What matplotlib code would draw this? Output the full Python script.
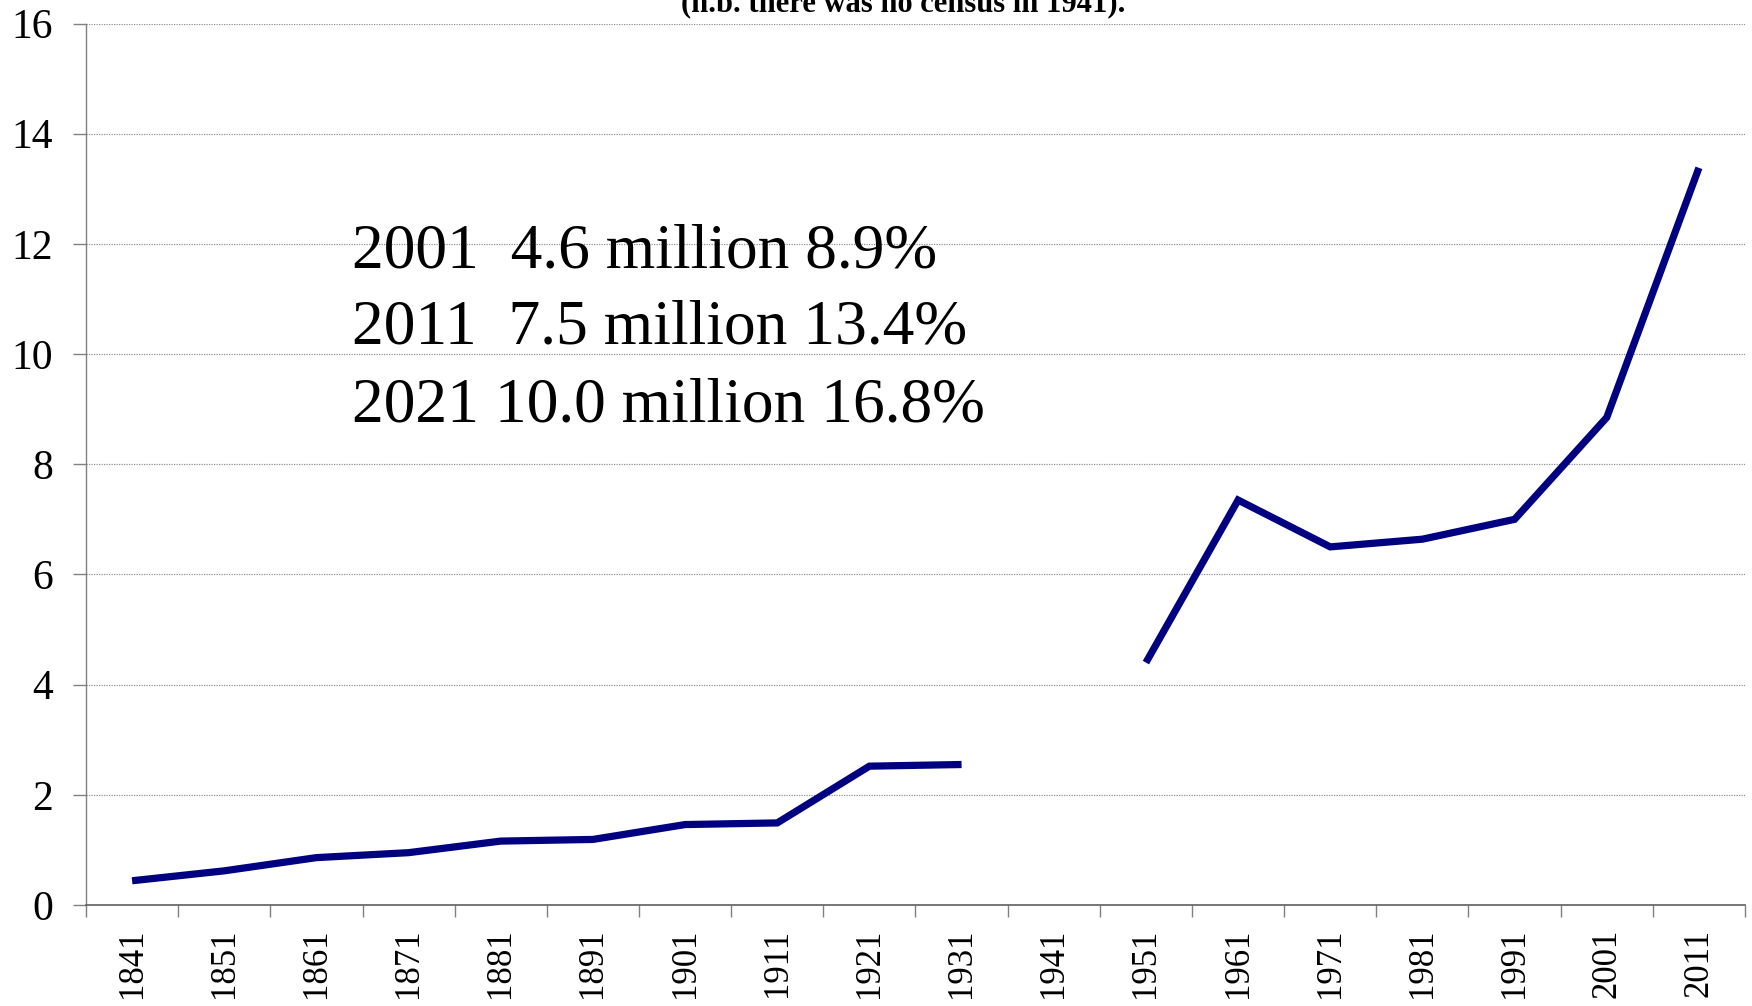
import matplotlib
matplotlib.use("Agg")
import matplotlib.pyplot as plt
import numpy as np

plt.rcParams['font.family'] = ['Liberation Serif', 'DejaVu Serif']

years = ['1841', '1851', '1861', '1871', '1881', '1891', '1901', '1911', '1921', '1931',
         '1941', '1951', '1961', '1971', '1981', '1991', '2001', '2011']
# percent of population (no census in 1941)
values = [0.44, 0.62, 0.86, 0.95, 1.16, 1.19, 1.46, 1.49, 2.52, 2.55,
          np.nan, 4.40, 7.35, 6.50, 6.64, 7.00, 8.85, 13.38]
yticks = [0, 2, 4, 6, 8, 10, 12, 14, 16]
title_text = "(n.b. there was no census in 1941)."
notes = ["2001  4.6 million 8.9%", "2011  7.5 million 13.4%", "2021 10.0 million 16.8%"]

W, H = 1752, 1006
fig = plt.figure(figsize=(W / 100, H / 100), dpi=100)
ax = fig.add_axes([86 / W, 1 - 905 / H, (1745 - 86) / W, (905 - 23.5) / H])

x = np.arange(len(years)) + 0.5
ax.plot(x, values, color='#000080', linewidth=5.2, solid_capstyle='butt', solid_joinstyle='miter')

ax.set_xlim(0, len(years))
ax.set_ylim(0, 16)
ax.set_yticks(yticks)
ax.set_yticklabels([str(v) for v in yticks], fontsize=30)
ax.set_xticks(np.arange(len(years) + 1))
ax.set_xticklabels([])
ax.set_xticks(x, minor=True)
ax.set_xticklabels(years, minor=True, rotation=90, fontsize=25)

ax.tick_params(axis='y', direction='out', length=9.5, width=1.0, color='#808080', pad=14)
ax.tick_params(axis='x', which='major', direction='out', length=8.5, width=1.0, color='#808080')
ax.tick_params(axis='x', which='minor', length=0, pad=17)

ax.grid(axis='y', color='#909090', linestyle=(0, (1, 1)), linewidth=0.9)
ax.set_axisbelow(True)
for s in ['top', 'right']:
    ax.spines[s].set_visible(False)
ax.spines['left'].set_color('#808080')
ax.spines['bottom'].set_color('#606060')
ax.spines['left'].set_linewidth(1.0)
ax.spines['bottom'].set_linewidth(1.2)

fig.text(903 / W, 1 - 11 / H, title_text, ha='center', va='baseline',
         fontsize=22, fontweight='bold')

for i, line in enumerate(notes):
    fig.text(352 / W, 1 - (267 + 77 * i) / H, line, ha='left', va='baseline', fontsize=45.7)

fig.savefig('out.png', dpi=100, facecolor='white')
